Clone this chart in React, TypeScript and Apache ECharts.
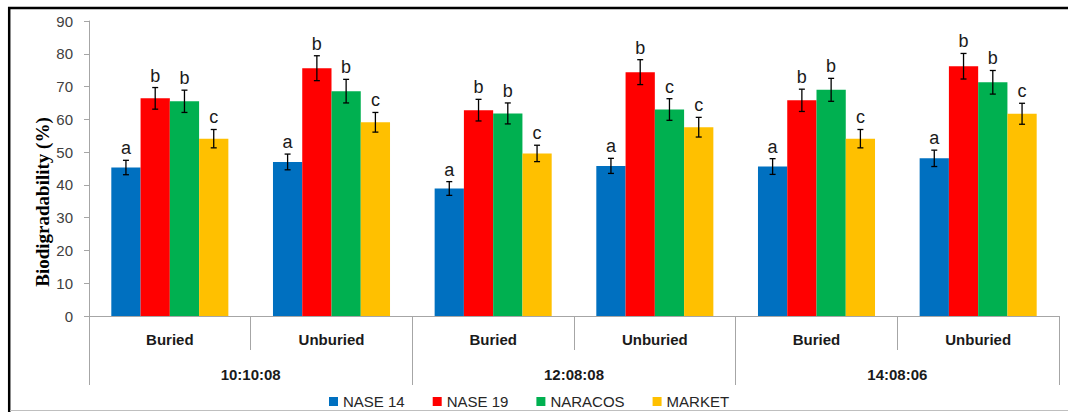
import React, { useEffect, useRef } from "react";
import * as echarts from "echarts";

// Sub-categories (treatment) and their parent groups (planting dates)
const categories = ["Buried", "Unburied", "Buried", "Unburied", "Buried", "Unburied"];
const groups = ["10:10:08", "12:08:08", "14:08:06"];

const seriesNames = ["NASE 14", "NASE 19", "NARACOS", "MARKET"];
const seriesColors = ["#0070C0", "#FF0000", "#00B050", "#FFC000"];

// Mean biodigradability (%)
const nase14 = [45.3, 47.0, 38.9, 45.8, 45.6, 48.1];
const nase19 = [66.4, 75.6, 62.8, 74.4, 65.8, 76.2];
const naracos = [65.5, 68.6, 61.8, 63.0, 69.0, 71.3];
const market = [54.1, 59.1, 49.6, 57.6, 54.1, 61.7];

// Standard errors
const nase14Err = [2.2, 2.4, 2.1, 2.3, 2.4, 2.5];
const nase19Err = [3.3, 3.8, 3.3, 3.8, 3.4, 3.9];
const naracosErr = [3.4, 3.6, 3.2, 3.3, 3.5, 3.6];
const marketErr = [2.8, 3.0, 2.5, 3.0, 2.8, 3.2];

// Significance letters
const nase14Letters = ["a", "a", "a", "a", "a", "a"];
const nase19Letters = ["b", "b", "b", "b", "b", "b"];
const naracosLetters = ["b", "b", "b", "c", "b", "b"];
const marketLetters = ["c", "c", "c", "c", "c", "c"];

const yTicks = { min: 0, max: 90, interval: 10 };

const BAR_CATEGORY_GAP = 0.276;
const SANS = '"Liberation Sans", Arial, sans-serif';
const AXIS_GRAY = "#A6A6A6";

export default function App() {
  const ref = useRef<HTMLDivElement>(null);

  useEffect(() => {
    if (!ref.current) return;
    const chart = echarts.init(ref.current, undefined, { renderer: "svg" });

    const means = [nase14, nase19, naracos, market];
    const errs = [nase14Err, nase19Err, naracosErr, marketErr];
    const letters = [nase14Letters, nase19Letters, naracosLetters, marketLetters];

    const bars = seriesNames.map((name, k) => ({
      name,
      type: "bar",
      xAxisIndex: 0,
      yAxisIndex: 0,
      data: means[k],
      barGap: "0%",
      barCategoryGap: `${BAR_CATEGORY_GAP * 100}%`,
      itemStyle: { color: seriesColors[k] },
      z: 2,
    }));

    const errorSeries = seriesNames.map((name, k) => ({
      name: name + " error",
      type: "custom",
      xAxisIndex: 0,
      yAxisIndex: 0,
      z: 5,
      encode: { x: 0, y: [1, 2] },
      data: means[k].map((m, i) => [i, m - errs[k][i], m + errs[k][i]]),
      renderItem: (params: any, api: any) => {
        const ci = api.value(0);
        const lo = api.value(1);
        const hi = api.value(2);
        const letter = letters[k][ci];
        const band = api.size([1, 0])[0];
        const bw = (band * (1 - BAR_CATEGORY_GAP)) / 4;
        const cx = api.coord([ci, 0])[0] + (k - 1.5) * bw;
        const yTop = api.coord([ci, hi])[1];
        const yBot = api.coord([ci, lo])[1];
        const cap = 3;
        const lineStyle = { stroke: "#000", lineWidth: 1.3 };
        return {
          type: "group",
          children: [
            { type: "line", shape: { x1: cx, y1: yTop, x2: cx, y2: yBot }, style: lineStyle },
            { type: "line", shape: { x1: cx - cap, y1: yTop, x2: cx + cap, y2: yTop }, style: lineStyle },
            { type: "line", shape: { x1: cx - cap, y1: yBot, x2: cx + cap, y2: yBot }, style: lineStyle },
            {
              type: "text",
              style: {
                text: letter,
                x: cx,
                y: yTop - 3,
                align: "center",
                verticalAlign: "bottom",
                fill: "#1a1a1a",
                font: `18px ${SANS}`,
              },
            },
          ],
        };
      },
    }));

    chart.setOption({
      animation: false,
      backgroundColor: "#fff",
      grid: { left: 89, right: 9, top: 21, bottom: 96, containLabel: false },
      legend: {
        data: seriesNames,
        left: 324,
        top: 389,
        icon: "rect",
        itemWidth: 9,
        itemHeight: 9,
        itemGap: 28,
        textStyle: { fontSize: 15, color: "#262626", fontFamily: SANS },
      },
      xAxis: [
        {
          type: "category",
          data: categories,
          position: "bottom",
          axisLine: { show: true, lineStyle: { color: AXIS_GRAY, width: 1 } },
          axisTick: { show: true, interval: 0, length: 34, lineStyle: { color: AXIS_GRAY } },
          axisLabel: {
            interval: 0,
            margin: 16,
            fontSize: 15,
            fontWeight: "bold",
            color: "#1a1a1a",
            fontFamily: SANS,
          },
        },
        {
          type: "category",
          data: groups,
          position: "bottom",
          axisLine: { show: false },
          axisTick: { show: true, interval: 0, length: 69, lineStyle: { color: AXIS_GRAY } },
          axisLabel: {
            interval: 0,
            margin: 51,
            fontSize: 15,
            fontWeight: "bold",
            color: "#1a1a1a",
            fontFamily: SANS,
          },
        },
      ],
      yAxis: {
        type: "value",
        min: yTicks.min,
        max: yTicks.max,
        interval: yTicks.interval,
        axisLine: { show: true, lineStyle: { color: AXIS_GRAY } },
        axisTick: { show: true, length: 5, lineStyle: { color: AXIS_GRAY } },
        splitLine: { show: false },
        axisLabel: { fontSize: 15, color: "#404040", margin: 16, fontFamily: SANS },
      },
      graphic: [
        {
          type: "text",
          x: 42,
          y: 202,
          rotation: Math.PI / 2,
          style: {
            text: "Biodigradability (%)",
            font: 'bold 19px "Liberation Serif", "Times New Roman", serif',
            fill: "#000",
            align: "center",
            verticalAlign: "middle",
          },
        },
        { type: "line", shape: { x1: 8, y1: 8, x2: 1068, y2: 8 }, style: { stroke: "#000", lineWidth: 2.5 } },
        { type: "line", shape: { x1: 9.2, y1: 7, x2: 9.2, y2: 412 }, style: { stroke: "#000", lineWidth: 2.5 } },
        { type: "line", shape: { x1: 10, y1: 410.5, x2: 1068, y2: 410.5 }, style: { stroke: "#BFBFBF", lineWidth: 1 } },
      ],
      series: [...bars, ...errorSeries],
    });

    return () => chart.dispose();
  }, []);

  return (
    <div
      ref={ref}
      style={{ position: "absolute", left: 0, top: 0, width: 1068, height: 412 }}
    />
  );
}
